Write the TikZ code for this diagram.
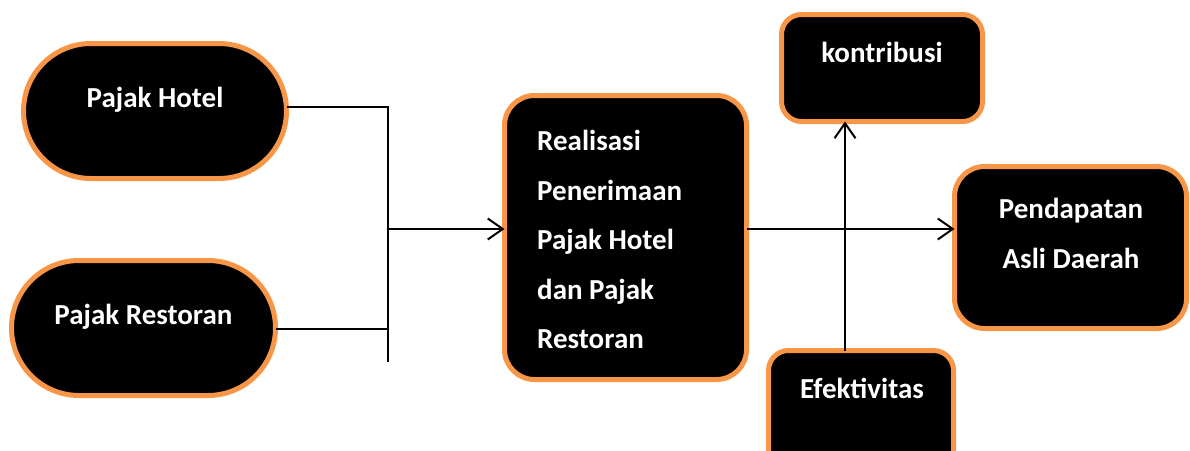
\documentclass[tikz,border=0pt]{standalone}
\usepackage{fontspec}
\setmainfont{Carlito}
\usetikzlibrary{arrows.meta}
\definecolor{orng}{HTML}{F79646}
\begin{document}
\begin{tikzpicture}[x=1pt,y=-1pt,
  box/.style={draw=orng, fill=black, line width=5pt, inner sep=0pt, outer sep=0pt},
  txt/.style={text=white, font=\fontsize{29}{49.5}\selectfont\bfseries, inner sep=0pt},
  conn/.style={line width=2pt, draw=black},
  arr/.style={conn, -{Straight Barb[length=15pt, width=21pt, line width=2pt]}}]
\useasboundingbox (0,0) rectangle (1190,450);
\clip (0,0) rectangle (1190,450);
% boxes
\node[box, minimum width=263pt, minimum height=135pt, rounded corners=67.5pt] (hotel) at (155,111) {};
\node[box, minimum width=264pt, minimum height=135pt, rounded corners=67.5pt] (resto) at (143.5,328) {};
\node[box, minimum width=242pt, minimum height=284pt, rounded corners=30pt] (real) at (625.5,237.5) {};
\node[box, minimum width=201pt, minimum height=107pt, rounded corners=20pt] (kontr) at (882,68) {};
\node[box, minimum width=232pt, minimum height=162pt, rounded corners=30pt] (pad) at (1070.5,247.5) {};
\node[box, minimum width=185pt, minimum height=130pt, rounded corners=20pt] (efek) at (861,415.5) {};
% texts
\node[txt, anchor=base] (thotel) at (155,107) {Pajak Hotel};
\node[txt, anchor=base] (tresto) at (143.5,324) {Pajak Restoran};
\node[txt, anchor=north west, align=left] (treal) at (537,130) {Realisasi\\Penerimaan\\Pajak Hotel\\dan Pajak\\Restoran};
\node[txt, anchor=base] (tkontr) at (882,62) {kontribusi};
\node[txt, anchor=north, align=center] (tpad) at (1071,198) {Pendapatan\\Asli Daerah};
\node[txt, anchor=base] (tefek) at (862,398) {Efektivitas};
% connectors
\coordinate (j1) at (388,107);
\coordinate (j2) at (388,329);
\coordinate (j3) at (388,229);
\coordinate (jend) at (388,362);
\coordinate (vx) at (845,229);
\draw[conn] (hotel.east |- j1) -- (j1) -- (jend);
\draw[conn] (resto.east |- j2) -- (j2);
\draw[arr] (j3) -- (real.west |- j3);
\draw[arr] (real.east |- j3) -- (pad.west |- j3);
\draw[arr] (efek.north -| vx) -- (kontr.south -| vx);
\end{tikzpicture}
\end{document}
